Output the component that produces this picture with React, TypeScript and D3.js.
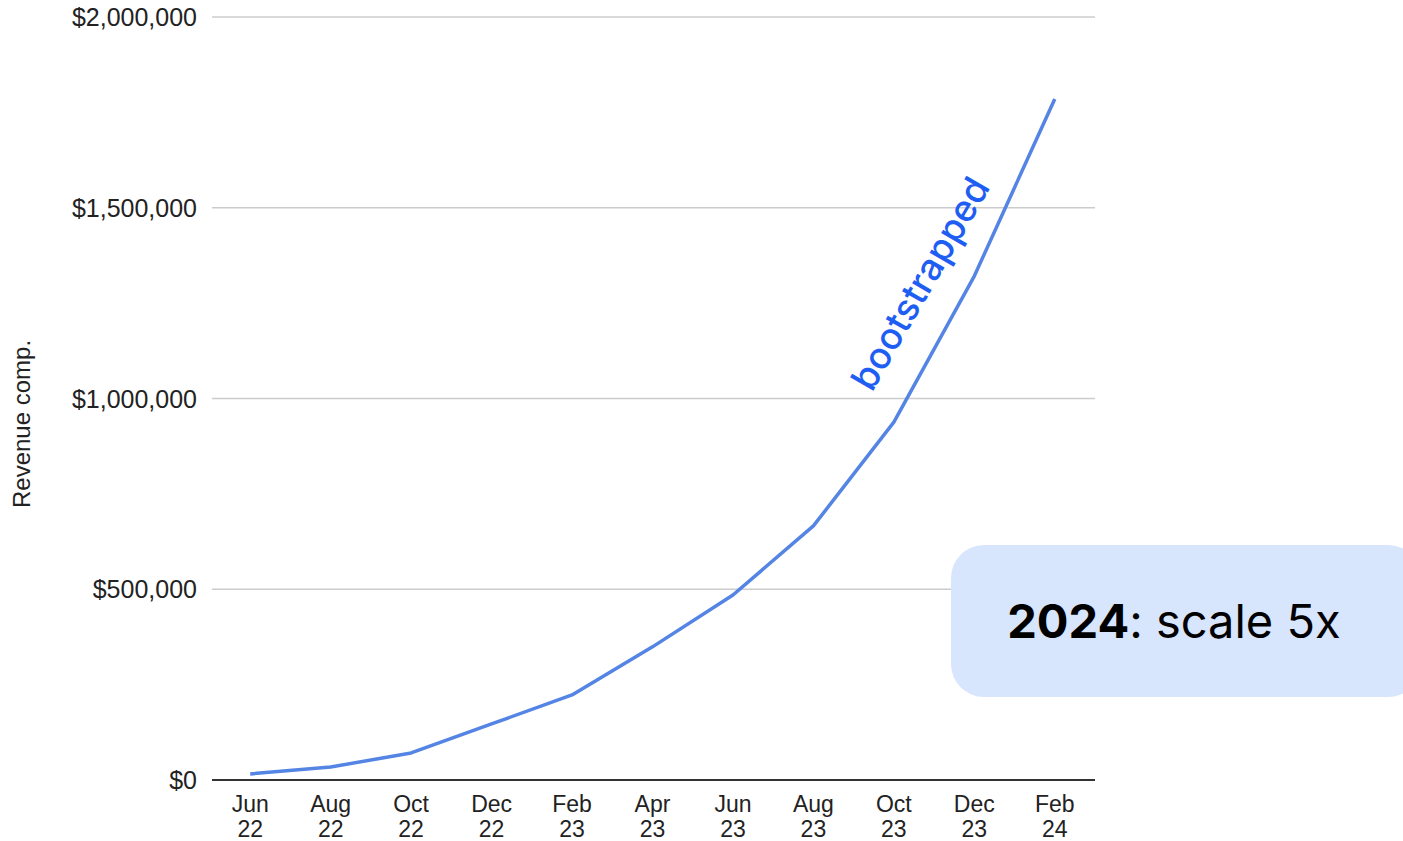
import React, { useEffect, useRef } from 'react'
import * as d3 from 'd3'

// months shown on the x axis (two-line labels)
const months = ['Jun 22', 'Aug 22', 'Oct 22', 'Dec 22', 'Feb 23', 'Apr 23', 'Jun 23', 'Aug 23', 'Oct 23', 'Dec 23', 'Feb 24']
// revenue
const revenue = [16000, 34000, 71000, 147000, 223000, 349000, 485000, 666000, 938000, 1321000, 1785000]
const yTicks = [0, 500000, 1000000, 1500000, 2000000]

export default function App() {
  const svgRef = useRef<SVGSVGElement | null>(null)

  useEffect(() => {
    if (!svgRef.current) return
    const svg = d3.select(svgRef.current)
    svg.selectAll('*').remove()

    const width = 1403
    const height = 841
    const left = 212
    const right = 1095
    const top = 17
    const bottom = 780

    svg.attr('width', width).attr('height', height)

    const x = d3.scalePoint<string>().domain(months).range([210, 1095]).padding(0.5)
    const y = d3.scaleLinear().domain([0, 2000000]).range([bottom, top])

    // gridlines
    svg.append('g')
      .selectAll('line')
      .data(yTicks.filter(t => t > 0))
      .enter()
      .append('line')
      .attr('x1', left)
      .attr('x2', right)
      .attr('y1', d => y(d))
      .attr('y2', d => y(d))
      .attr('stroke', '#cccccc')
      .attr('stroke-width', 1.5)

    // y tick labels
    const fmt = d3.format('$,')
    svg.append('g')
      .selectAll('text')
      .data(yTicks)
      .enter()
      .append('text')
      .attr('x', 197)
      .attr('y', d => y(d))
      .attr('dy', '0.36em')
      .attr('text-anchor', 'end')
      .style('font-family', 'Liberation Sans, Arial, sans-serif')
      .style('font-size', '25px')
      .attr('fill', '#222')
      .text(d => fmt(d))

    // baseline axis
    svg.append('line')
      .attr('x1', left)
      .attr('x2', right)
      .attr('y1', y(0))
      .attr('y2', y(0))
      .attr('stroke', '#333')
      .attr('stroke-width', 2)

    // x labels, month on top and year below
    const xg = svg.append('g')
      .style('font-family', 'Liberation Sans, Arial, sans-serif')
      .style('font-size', '23px')
      .attr('fill', '#222')
      .attr('text-anchor', 'middle')
    xg.selectAll('text.m')
      .data(months)
      .enter()
      .append('text')
      .attr('class', 'm')
      .attr('x', d => x(d) as number)
      .attr('y', 812)
      .text(d => d.split(' ')[0])
    xg.selectAll('text.yr')
      .data(months)
      .enter()
      .append('text')
      .attr('class', 'yr')
      .attr('x', d => x(d) as number)
      .attr('y', 837)
      .text(d => d.split(' ')[1])

    // y axis title
    svg.append('text')
      .attr('transform', 'rotate(-90)')
      .attr('x', -424)
      .attr('y', 30)
      .attr('text-anchor', 'middle')
      .style('font-family', 'Liberation Sans, Arial, sans-serif')
      .style('font-size', '24px')
      .attr('fill', '#222')
      .text('Revenue comp.')

    // revenue line
    const line = d3.line<number>()
      .x((_, i) => x(months[i]) as number)
      .y(d => y(d))
    svg.append('path')
      .datum(revenue)
      .attr('d', line)
      .attr('fill', 'none')
      .attr('stroke', '#5484e4')
      .attr('stroke-width', 3.5)
      .attr('stroke-linejoin', 'round')

    // annotation
    svg.append('text')
      .attr('transform', 'translate(872,393) rotate(-60)')
      .style('font-family', 'Inter, sans-serif')
      .style('font-size', '37px')
      .style('font-weight', 500)
      .attr('fill', '#1f5ef2')
      .text('bootstrapped')

    // callout box
    svg.append('rect')
      .attr('x', 951)
      .attr('y', 545)
      .attr('width', 470)
      .attr('height', 152)
      .attr('rx', 33)
      .attr('fill', '#d7e5fd')
    const callout = svg.append('text')
      .attr('x', 1174)
      .attr('y', 638)
      .attr('text-anchor', 'middle')
      .style('font-family', 'Inter, sans-serif')
      .style('font-size', '47px')
      .attr('fill', '#000')
    callout.append('tspan').attr('font-weight', 700).text('2024')
    callout.append('tspan').text(': scale 5x')
  }, [])

  return (
    <svg
      ref={svgRef}
      style={{ position: 'absolute', left: 0, top: 0, display: 'block', background: '#fff' }}
    ></svg>
  )
}
